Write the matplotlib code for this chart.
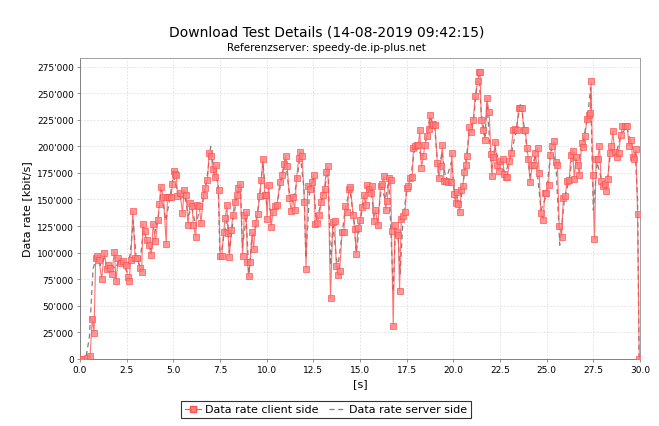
import matplotlib
matplotlib.use("Agg")
import matplotlib.pyplot as plt
from matplotlib.ticker import FuncFormatter, MultipleLocator
from matplotlib.lines import Line2D

# Client side data (time [s], rate [kbit/s] in thousands)
client_t = [0.0, 0.18, 0.36, 0.54, 0.66, 0.75, 0.84, 0.93, 1.02, 1.16, 1.3, 1.43, 1.52, 1.61, 1.7, 1.84, 1.93,
            2.05, 2.2, 2.33, 2.45, 2.56, 2.63, 2.72, 2.83, 2.95, 3.07, 3.2, 3.3, 3.37, 3.46, 3.58, 3.67, 3.82,
            3.92, 4.04, 4.18, 4.25, 4.33, 4.47, 4.62, 4.68, 4.78, 4.88, 4.95, 5.03, 5.1, 5.16, 5.22, 5.36,
            5.49, 5.58, 5.69, 5.78, 5.9, 5.99, 6.08, 6.2, 6.26, 6.39, 6.48, 6.62, 6.71, 6.83, 6.92, 7.03,
            7.1, 7.21, 7.28, 7.42, 7.51, 7.6, 7.69, 7.78, 7.87, 7.93, 8.0, 8.1, 8.19, 8.28, 8.4, 8.49, 8.58,
            8.71, 8.8, 8.9, 8.97, 9.03, 9.12, 9.21, 9.3, 9.39, 9.51, 9.62, 9.71, 9.8, 9.9, 9.97, 10.02, 10.1,
            10.24, 10.33, 10.44, 10.56, 10.7, 10.83, 10.92, 11.01, 11.1, 11.22, 11.31, 11.4, 11.5, 11.6,
            11.72, 11.81, 11.9, 12.02, 12.11, 12.2, 12.3, 12.43, 12.52, 12.6, 12.7, 12.82, 12.91, 13.0, 13.1,
            13.18, 13.28, 13.42, 13.54, 13.64, 13.73, 13.82, 13.91, 14.04, 14.13, 14.22, 14.31, 14.4, 14.49,
            14.63, 14.71, 14.8, 14.89, 15.0, 15.09, 15.21, 15.3, 15.39, 15.48, 15.57, 15.66, 15.74, 15.83,
            15.96, 16.1, 16.19, 16.28, 16.37, 16.46, 16.55, 16.64, 16.69, 16.78, 16.87, 16.96, 17.05, 17.12,
            17.21, 17.32, 17.41, 17.5, 17.59, 17.68, 17.8, 17.86, 17.95, 18.04, 18.13, 18.2, 18.29, 18.4,
            18.47, 18.58, 18.67, 18.75, 18.84, 18.93, 19.02, 19.14, 19.23, 19.32, 19.41, 19.5, 19.63, 19.73,
            19.86, 19.91, 20.04, 20.13, 20.19, 20.25, 20.34, 20.43, 20.52, 20.57, 20.66, 20.75, 20.84, 20.97,
            21.07, 21.17, 21.3, 21.38, 21.43, 21.5, 21.59, 21.7, 21.79, 21.92, 22.01, 22.06, 22.15, 22.24,
            22.33, 22.42, 22.51, 22.64, 22.73, 22.82, 22.9, 23.0, 23.08, 23.21, 23.3, 23.39, 23.5, 23.59,
            23.68, 23.77, 23.86, 23.95, 24.02, 24.11, 24.22, 24.31, 24.39, 24.51, 24.6, 24.69, 24.81, 24.9,
            24.99, 25.1, 25.19, 25.28, 25.4, 25.49, 25.58, 25.67, 25.8, 25.89, 25.99, 26.09, 26.21, 26.3,
            26.39, 26.48, 26.57, 26.66, 26.75, 26.88, 26.97, 27.06, 27.15, 27.26, 27.33, 27.38, 27.47, 27.56,
            27.65, 27.74, 27.83, 27.92, 28.01, 28.1, 28.19, 28.28, 28.37, 28.46, 28.55, 28.64, 28.77, 28.86,
            28.97, 29.06, 29.18, 29.31, 29.42, 29.51, 29.6, 29.69, 29.78, 29.87, 29.96]
client_v = [0, 0, 1, 3, 38, 24, 95, 97, 93, 75, 100, 85, 88, 86, 80, 101, 73,
            95, 90, 92, 88, 77, 73, 93, 139, 95, 95, 86, 82, 127, 120, 112, 107, 98,
            127, 111, 131, 146, 162, 152, 108, 152, 152, 152, 165, 177, 174, 173, 153, 156,
            137, 159, 154, 126, 147, 144, 126, 115, 145, 144, 128, 154, 161, 168, 194, 191,
            179, 171, 182, 159, 97, 97, 119, 133, 145, 118, 96, 121, 135, 148, 154, 161, 165,
            97, 135, 138, 91, 78, 91, 119, 103, 128, 136, 153, 168, 188, 154, 154, 132, 164,
            124, 138, 144, 145, 166, 173, 183, 191, 181, 151, 139, 152, 140, 170,
            189, 195, 191, 148, 85, 163, 160, 166, 173, 127, 128, 135, 148, 154, 160,
            176, 181, 57, 129, 130, 87, 79, 83, 119, 119, 144, 138, 160, 162,
            135, 122, 99, 123, 131, 143, 154, 145, 164, 160, 156, 163, 130, 140,
            126, 163, 165, 172, 140, 149, 170, 168, 120, 31, 126, 119, 117, 64,
            132, 134, 138, 161, 163, 170, 171, 198, 200, 201, 201, 215, 180, 191,
            201, 210, 216, 229, 220, 221, 220, 184, 170, 181, 201, 167, 167, 166,
            166, 194, 155, 147, 157, 146, 138, 159, 163, 176, 182, 191, 218, 213,
            225, 247, 261, 270, 270, 225, 215, 206, 245, 232, 193, 172, 190, 204,
            182, 177, 186, 188, 174, 171, 171, 186, 194, 215, 216, 215, 236, 236,
            236, 215, 215, 198, 188, 166, 182, 182, 194, 198, 175, 137, 131, 156,
            156, 164, 192, 200, 205, 185, 182, 125, 115, 151, 153, 167, 168, 192,
            196, 169, 190, 182, 173, 203, 199, 210, 226, 229, 231, 261, 173, 113,
            188, 188, 200, 167, 163, 165, 158, 169, 194, 200, 214, 195, 190, 194,
            211, 219, 219, 219, 200, 206, 190, 188, 197, 136, 0]

# Server side data
server_t = [0.0, 0.3, 0.5, 0.7, 0.9, 1.1, 1.3, 1.5, 1.7, 1.9, 2.1, 2.3, 2.5, 2.7, 2.85, 3.0, 3.2, 3.4, 3.6,
            3.8, 4.0, 4.2, 4.35, 4.6, 4.8, 5.0, 5.2, 5.4, 5.6, 5.8, 6.0, 6.2, 6.4, 6.6, 6.8, 7.0, 7.2, 7.4,
            7.5, 7.7, 7.9, 8.0, 8.2, 8.4, 8.6, 8.7, 8.9, 9.05, 9.2, 9.4, 9.6, 9.8, 10.0, 10.2, 10.4, 10.6,
            10.8, 11.0, 11.2, 11.4, 11.6, 11.8, 12.0, 12.1, 12.3, 12.5, 12.65, 12.9, 13.1, 13.3, 13.42,
            13.55, 13.8, 14.0, 14.2, 14.45, 14.7, 14.8, 15.0, 15.2, 15.4, 15.6, 15.75, 15.95, 16.15, 16.35,
            16.55, 16.7, 16.78, 16.9, 17.05, 17.15, 17.3, 17.5, 17.7, 17.9, 18.1, 18.3, 18.5, 18.75, 19.0,
            19.2, 19.4, 19.6, 19.9, 20.1, 20.35, 20.6, 20.85, 21.1, 21.35, 21.5, 21.7, 21.8, 22.05, 22.25,
            22.5, 22.8, 23.1, 23.35, 23.6, 23.85, 24.1, 24.4, 24.7, 24.95, 25.25, 25.5, 25.7, 25.95, 26.2,
            26.4, 26.65, 26.9, 27.2, 27.35, 27.5, 27.7, 27.95, 28.2, 28.45, 28.7, 29.0, 29.3, 29.5, 29.75,
            29.87, 29.95]
server_v = [0, 0, 20, 85, 96, 88, 95, 86, 88, 85, 93, 92, 82, 100, 130, 97, 88, 122, 110,
            103, 118, 135, 160, 130, 150, 172, 160, 150, 155, 135, 142, 125, 140, 150, 170, 200, 175, 165,
            92, 115, 135, 100, 130, 152, 163, 105, 132, 80, 112, 122, 150, 185, 145, 140, 140, 150,
            170, 188, 158, 148, 165, 192, 160, 95, 158, 170, 130, 145, 160, 178, 88,
            125, 85, 112, 140, 160, 128, 100, 128, 150, 160, 158, 135, 130, 162, 150,
            168, 100, 63, 122, 112, 80, 130, 158, 168, 195, 202, 188, 203, 228, 218,
            175, 195, 168, 185, 150, 142, 175, 212, 228, 272, 230, 210, 240, 180, 198,
            182, 175, 192, 214, 241, 212, 172, 192, 140, 152, 198, 183, 107, 150, 168,
            192, 182, 200, 228, 255, 140, 185, 168, 160, 198, 192, 212, 218, 203, 192,
            150, 0]

x_ticks = [0.0, 2.5, 5.0, 7.5, 10.0, 12.5, 15.0, 17.5, 20.0, 22.5, 25.0, 27.5, 30.0]

title = "Download Test Details (14-08-2019 09:42:15)"
subtitle = "Referenzserver: speedy-de.ip-plus.net"

fig = plt.figure(figsize=(6.59, 4.27), dpi=100)
ax = fig.add_axes([80 / 659, 67 / 427, 560 / 659, 301 / 427])

cv = [v * 1000 for v in client_v]
sv = [v * 1000 for v in server_v]

ax.plot(server_t, sv, linestyle=(0, (4, 3)), color="#808080", linewidth=0.9, zorder=2)
ax.plot(client_t, cv, color="#FF5050", linewidth=0.8, alpha=0.8, marker="s", markersize=4,
        markerfacecolor="#FF8080", markeredgecolor="#FF5050", markeredgewidth=0.6, zorder=3)

ax.set_xlim(0, 30)
ax.set_ylim(0, 283000)
ax.set_xticks(x_ticks)
ax.xaxis.set_major_formatter(FuncFormatter(lambda v, p: f"{v:.1f}"))
ax.yaxis.set_major_locator(MultipleLocator(25000))
ax.yaxis.set_major_formatter(FuncFormatter(lambda v, p: f"{int(round(v)):,}".replace(",", "'")))
ax.tick_params(axis="both", labelsize=6.5, length=2.5, width=0.6, color="#808080", pad=2)
ax.grid(True, color="#DDDDDD", linestyle=(0, (2, 2)), linewidth=0.6)
ax.set_axisbelow(True)
for s in ax.spines.values():
    s.set_color("#A0A0A0")
    s.set_linewidth(0.7)
ax.spines["left"].set_color("#808080")
ax.spines["bottom"].set_color("#808080")

ax.set_xlabel("[s]", fontsize=8, labelpad=3)
ax.set_ylabel("Data rate [kbit/s]", fontsize=8, labelpad=3)

fig.text(0.495, 1 - 33 / 427, title, ha="center", va="center", fontsize=10)
fig.text(0.495, 1 - 48 / 427, subtitle, ha="center", va="center", fontsize=7.5)

handles = [Line2D([], [], color="#FF5050", linewidth=0.8, marker="s", markersize=4,
                  markerfacecolor="#FF8080", markeredgecolor="#FF5050"),
           Line2D([], [], color="#808080", linestyle=(0, (4, 3)), linewidth=0.9)]
leg = fig.legend(handles, ["Data rate client side", "Data rate server side"],
                 loc="center", bbox_to_anchor=(326 / 659, 1 - 410.5 / 427), ncol=2,
                 fontsize=8, frameon=True, fancybox=False, handlelength=1.5, handletextpad=0.3,
                 columnspacing=1.0, borderpad=0.3)
leg.get_frame().set_edgecolor("black")
leg.get_frame().set_linewidth(0.8)

fig.savefig("out.png", dpi=100)
